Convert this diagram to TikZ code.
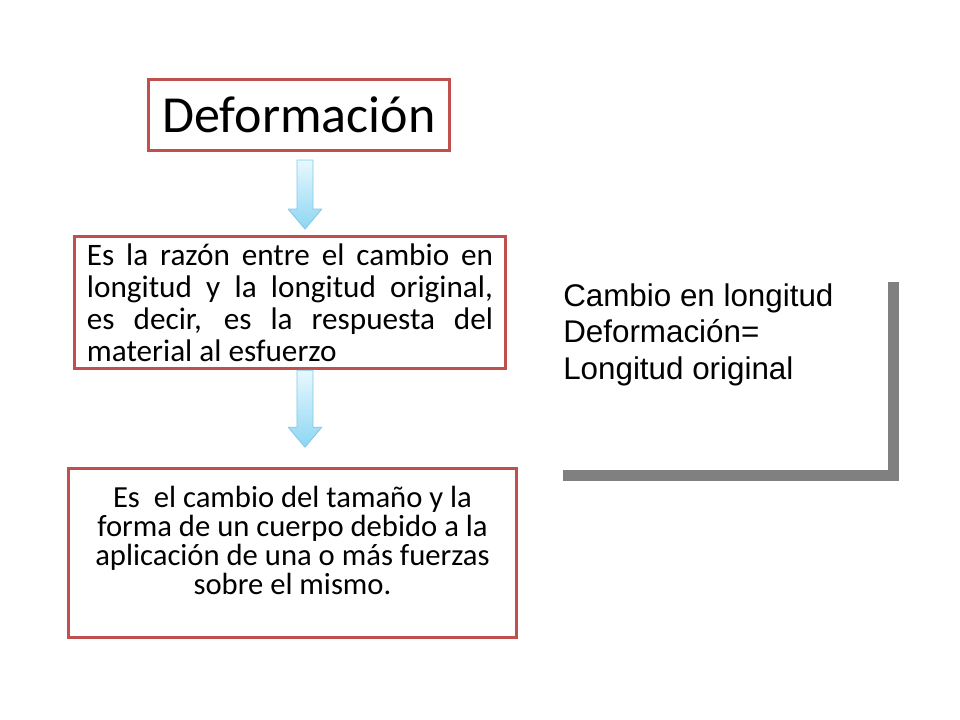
\documentclass[tikz,border=0pt]{standalone}
\usepackage{fontspec}
\setmainfont{Carlito}
\newfontfamily\arialfont{Liberation Sans}
\usetikzlibrary{positioning,calc}
\definecolor{defred}{RGB}{192,80,77}
\definecolor{arrowlight}{RGB}{232,248,254}
\definecolor{arrowblue}{RGB}{140,214,243}
\definecolor{arrowedge}{RGB}{130,200,232}
\definecolor{framegray}{RGB}{128,128,128}

\begin{document}
\begin{tikzpicture}[x=0.025cm, y=-0.025cm,
		% Node styles
		heading/.style={draw=defred, line width=2.2pt, minimum width=7.525cm, minimum height=1.775cm,
				font=\fontsize{37}{44}\selectfont},
		meaning/.style={draw=defred, line width=2.2pt, minimum width=10.775cm, minimum height=3.3cm,
				text width=10.15cm, align=justify, font=\fontsize{22.2}{22.6}\selectfont},
		concept/.style={draw=defred, line width=2.2pt, minimum width=11.2cm, minimum height=4.225cm},
		concept_text/.style={align=center, font=\fontsize{21.8}{20.6}\selectfont},
		formula/.style={anchor=north west, inner sep=0pt, align=left,
				font=\arialfont\fontsize{22.3}{26.3}\selectfont},
		blockarrow/.style={draw=arrowedge, line width=0.6pt, top color=arrowlight, bottom color=arrowblue,
				line join=round},
		framebar/.style={draw=framegray, line width=0.275cm, line join=miter},
	]

	\useasboundingbox (0,0) rectangle (960,720);

	% Title box at the top
	\node[heading] (title) at (299,115) {Deformación};

	% Boxes below, placed relative to the title
	\node[meaning] (def) [below=2.075cm of title, xshift=-0.225cm]
		{Es la razón entre el cambio en\linebreak longitud y la longitud original,\linebreak
		es decir, es la respuesta del\linebreak material al esfuerzo};
	\node[concept] (conc) [below=2.425cm of def, xshift=0.0625cm] {};
	\node[concept_text] (conc_text) at ($(conc.center)+(0,-13)$)
		{Es\ \ el cambio del tamaño y la\\forma de un cuerpo debido a la\\aplicación de una o más fuerzas\\sobre el mismo.};

	% Block arrows between the boxes
	\foreach \a/\b/\ga/\gb/\dx in {title/def/8/6/6, def/conc/0/20/15}
		\path[blockarrow] let \p1=($(\a.south)+(\dx,\ga)$), \p2=($(\b.north)+(0,-\gb)$) in
			(\x1-0.2cm,\y1) -- (\x1+0.2cm,\y1) -- (\x1+0.2cm,\y2+0.5cm) -- (\x1+0.42cm,\y2+0.5cm)
			-- (\x1,\y2) -- (\x1-0.42cm,\y2+0.5cm) -- (\x1-0.2cm,\y2+0.5cm) -- cycle;

	% Formula with the gray frame
	\node[formula] (formula) at (563,283) {Cambio en longitud\\Deformación=\\Longitud original};
	\draw[framebar] (563,475.5) -- (893.5,475.5) -- (893.5,282);

\end{tikzpicture}
\end{document}
